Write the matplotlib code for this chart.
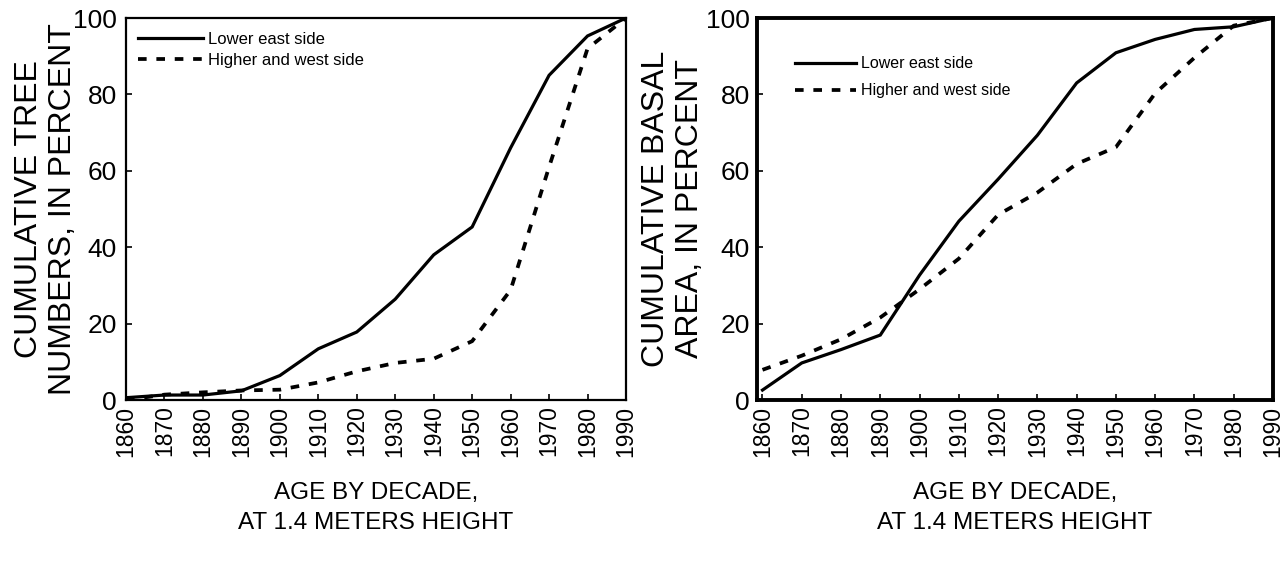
import matplotlib
matplotlib.use("Agg")
import matplotlib.pyplot as plt

plt.rcParams['font.family'] = ['Liberation Sans', 'DejaVu Sans']

decades = [1860, 1870, 1880, 1890, 1900, 1910, 1920, 1930, 1940, 1950, 1960, 1970, 1980, 1990]
tick_labels = [str(d) for d in decades]

# Left panel: cumulative tree numbers (percent)
trees_lower_east = [0.6, 1.3, 1.3, 2.4, 6.4, 13.4, 17.8, 26.4, 38.0, 45.3, 66.0, 85.0, 95.3, 100.0]
trees_higher_west = [0.0, 1.4, 2.0, 2.5, 2.7, 4.6, 7.5, 9.7, 10.8, 15.4, 28.8, 61.0, 92.0, 100.0]

# Right panel: cumulative basal area (percent)
basal_lower_east = [2.6, 9.7, 13.2, 17.0, 32.7, 46.8, 57.8, 69.3, 83.0, 90.9, 94.4, 97.0, 97.7, 100.0]
basal_higher_west = [7.9, 11.6, 15.9, 21.6, 29.0, 37.0, 48.5, 54.3, 61.8, 66.2, 80.3, 89.6, 98.0, 100.0]

yticks = [0, 20, 40, 60, 80, 100]
legend_labels = ["Lower east side", "Higher and west side"]
xlabel = "AGE BY DECADE,\nAT 1.4 METERS HEIGHT"

W, H = 1283, 563
fig = plt.figure(figsize=(W / 100, H / 100), dpi=100)

def px_axes(x0, x1, y0, y1):
    return fig.add_axes([x0 / W, 1 - y1 / H, (x1 - x0) / W, (y1 - y0) / H])

axL = px_axes(126, 626, 18, 400)
axR = px_axes(757, 1273, 18, 400)

dash = (0, (2.3, 2.6))

def style(ax, y1, y2, ylabel, xlim, spine_w, ylab_x, leg_anchor, leg_fs, leg_spacing, leg_handle, ypad):
    l1, = ax.plot(decades, y1, color='black', lw=2.3, solid_joinstyle='miter')
    l2, = ax.plot(decades, y2, color='black', lw=2.7, linestyle=dash, dash_capstyle='butt')
    ax.set_xlim(*xlim)
    ax.set_ylim(0, 100)
    ax.set_xticks(decades)
    ax.set_xticklabels(tick_labels, rotation=90, fontsize=16.5)
    ax.set_yticks(yticks)
    ax.set_yticklabels([str(v) for v in yticks], fontsize=19)
    ax.tick_params(axis='x', direction='in', length=4.5, width=1.2, pad=4)
    ax.tick_params(axis='y', direction='in', length=4.5, width=1.2, pad=ypad)
    for s in ax.spines.values():
        s.set_linewidth(spine_w)
    ax.set_ylabel(ylabel, fontsize=23, linespacing=1.2, ha='center', va='center')
    ax.yaxis.set_label_coords(ylab_x, 0.5)
    ax.set_xlabel(xlabel, fontsize=17.5, linespacing=1.45, ha='center', va='center')
    ax.xaxis.set_label_coords(0.5, -0.282)
    ax.legend([l1, l2], legend_labels, loc='upper left', bbox_to_anchor=leg_anchor,
              frameon=False, fontsize=leg_fs, handlelength=leg_handle, handletextpad=0.3,
              labelspacing=leg_spacing, borderaxespad=0, borderpad=0)

style(axL, trees_lower_east, trees_higher_west,
      "CUMULATIVE TREE\nNUMBERS, IN PERCENT", (1860, 1990), 1.6, -0.16,
      (0.024, 0.963), 12, 0.35, 3.9, 6.5)
style(axR, basal_lower_east, basal_higher_west,
      "CUMULATIVE BASAL\nAREA, IN PERCENT", (1858.6, 1990), 2.8, -0.163,
      (0.074, 0.9), 11.5, 0.75, 3.8, 5)

fig.savefig("out.png", dpi=100)
